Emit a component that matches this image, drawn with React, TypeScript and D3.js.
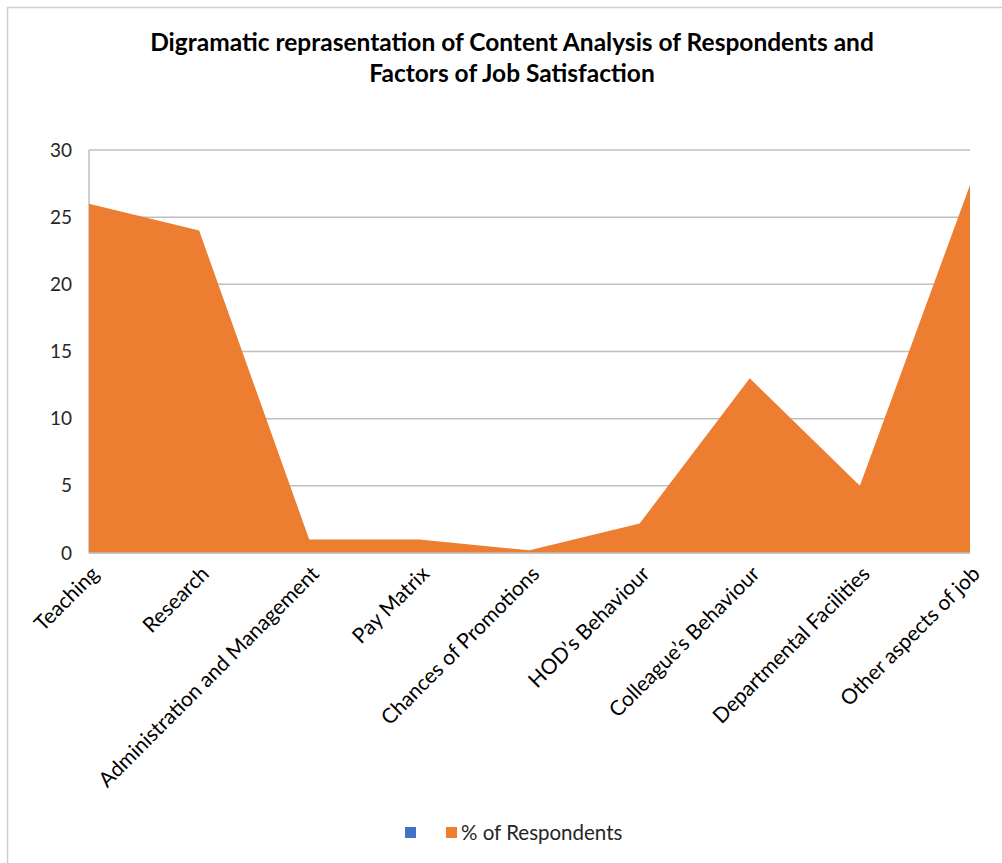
import React from 'react';
import * as d3 from 'd3';

const categories = [
  'Teaching',
  'Research',
  'Administration and Management',
  'Pay Matrix',
  'Chances of Promotions',
  'HOD\u2019s Behaviour',
  'Colleague\u2019s Behaviour',
  'Departmental Facilities',
  'Other aspects of job',
];
const respondents = [26, 24, 1, 1, 0.2, 2.2, 13, 5, 27.4];
const yTicks = [0, 5, 10, 15, 20, 25, 30];

const W = 1002;
const H = 863;
const margin = { top: 150, right: 32, bottom: 310, left: 89 };
const font = 'Lato, "Open Sans", sans-serif';

const App = () => {
  const innerW = W - margin.left - margin.right;
  const innerH = H - margin.top - margin.bottom;

  const x = d3.scalePoint<string>().domain(categories).range([0, innerW]);
  const y = d3.scaleLinear().domain([0, 30]).range([innerH, 0]);

  const area = d3
    .area<number>()
    .x((_, i) => x(categories[i]) as number)
    .y0(innerH)
    .y1((d) => y(d));

  return (
    <svg width={W} height={H} style={{ position: 'absolute', left: 0, top: 0, background: '#fff' }}>
      <rect x={7.5} y={7.5} width={W} height={H} fill="#fff" stroke="#d0d0d0" strokeWidth={1.5} />
      <text x={512} y={51} textAnchor="middle" fontFamily={font} fontWeight="bold" fontSize={24.5} fill="#000">
        Digramatic reprasentation of Content Analysis of Respondents and
      </text>
      <text x={512} y={82} textAnchor="middle" fontFamily={font} fontWeight="bold" fontSize={24.5} fill="#000">
        Factors of Job Satisfaction
      </text>
      <g transform={`translate(${margin.left},${margin.top})`}>
        {yTicks.map((t) => (
          <g key={t}>
            <line x1={0} x2={innerW} y1={y(t)} y2={y(t)} stroke="#bfbfbf" strokeWidth={1.5} />
            <text x={-17} y={y(t)} dy="0.35em" textAnchor="end" fontFamily={font} fontSize={19} fill="#262626">
              {t}
            </text>
          </g>
        ))}
        <line x1={0} x2={0} y1={0} y2={innerH} stroke="#bfbfbf" strokeWidth={1.5} />
        <path d={area(respondents) || ''} fill="#ED7D31" />
        <line x1={0} x2={innerW} y1={innerH} y2={innerH} stroke="#bfbfbf" strokeWidth={1.5} />
        {categories.map((c) => (
          <text
            key={c}
            transform={`translate(${(x(c) as number) + 6},${innerH + 17}) rotate(-45)`}
            textAnchor="end"
            dy="0.35em"
            fontFamily={font}
            fontSize={21}
            fill="#000"
          >
            {c}
          </text>
        ))}
      </g>
      <rect x={405} y={827} width={11} height={11} fill="#4472C4" />
      <rect x={446} y={827} width={11} height={11} fill="#ED7D31" />
      <text x={461} y={840} fontFamily={font} fontSize={20.5} fill="#262626">
        % of Respondents
      </text>
    </svg>
  );
};

export default App;
